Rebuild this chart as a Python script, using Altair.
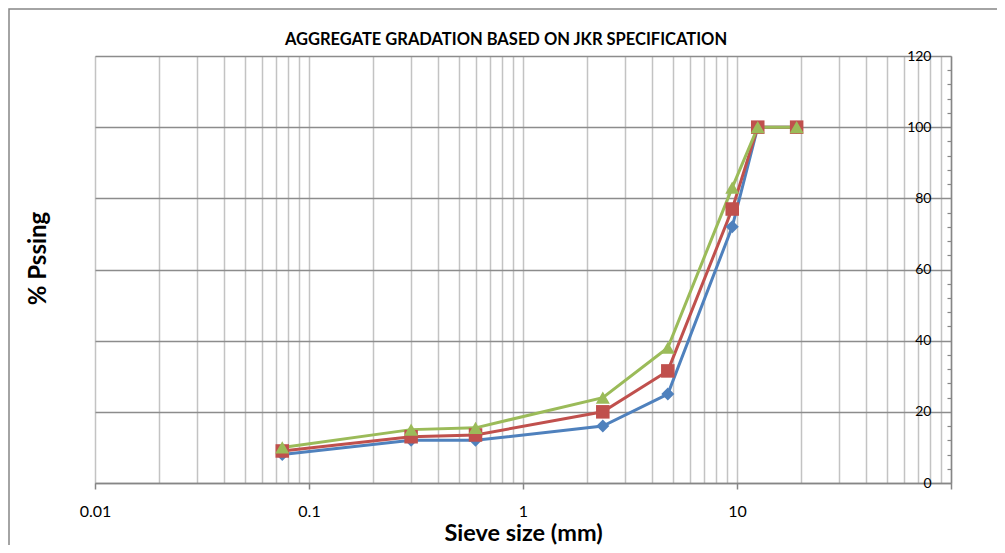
import altair as alt
import pandas as pd

# ---- data ----
sieve_mm = [0.075, 0.3, 0.6, 2.36, 4.75, 9.5, 12.5, 19]
series_names = ["Series1", "Series2", "Series3"]
series1 = [8, 12, 12, 16, 25, 72, 100, 100]
series2 = [9, 13, 13.5, 20, 31.5, 77, 100, 100]
series3 = [10, 15, 15.5, 24, 38, 83, 100, 100]
series_colors = ["#4F81BD", "#C0504D", "#9BBB59"]
series_shapes = ["diamond", "square", "triangle-up"]
series_sizes = [170, 196, 215]

chart_title = "AGGREGATE GRADATION BASED ON JKR SPECIFICATION"
x_title = "Sieve size (mm)"
y_title = "% Pssing"

x_major = [0.01, 0.1, 1, 10, 100]
x_grid = [0.01, 0.02, 0.03, 0.04, 0.05, 0.06, 0.07, 0.08, 0.09,
          0.1, 0.2, 0.3, 0.4, 0.5, 0.6, 0.7, 0.8, 0.9,
          1, 2, 3, 4, 5, 6, 7, 8, 9,
          10, 20, 30, 40, 50, 60, 70, 80, 90, 100]
y_major = [0, 20, 40, 60, 80, 100, 120]
y_minor = [4, 8, 12, 16, 24, 28, 32, 36, 44, 48, 52, 56, 64, 68, 72, 76,
           84, 88, 92, 96, 104, 108, 112, 116]

rows = []
for name, vals in zip(series_names, [series1, series2, series3]):
    for s, v in zip(sieve_mm, vals):
        rows.append({"series": name, "size": s, "pct": v})
df = pd.DataFrame(rows)

W, H = 856, 427
FONT = "Lato"
AXIS_GRAY = "#868686"

xscale = alt.Scale(type="log", domain=[0.01, 100], nice=False)
yscale = alt.Scale(domain=[0, 120], nice=False, zero=True)

x_axis = alt.Axis(
    values=x_grid,
    grid=True, gridColor="#C3C3C3", gridWidth=1.5,
    domain=True, domainColor=AXIS_GRAY, domainWidth=1.5,
    ticks=True, tickColor=AXIS_GRAY, tickWidth=1.5, tickSize=6,
    tickOpacity={"condition": {"test": "indexof([0.01, 0.1, 1, 10, 100], datum.value) >= 0", "value": 1}, "value": 0},
    labelExpr="indexof([0.01, 0.1, 1, 10], datum.value) >= 0 ? format(datum.value, '~g') : ''",
    labelOverlap=False, labelFlush=False,
    labelFont=FONT, labelFontSize=16, labelColor="#000000",
    labelBaseline="middle", labelPadding=22,
    title=x_title, titleFont=FONT, titleFontSize=23.5, titleFontWeight="bold",
    titleColor="#000000", titleX=428, titleY=57.5, titleAlign="center",
    titleBaseline="alphabetic", titleAngle=0,
)

y_axis = alt.Axis(
    orient="right", values=y_major,
    grid=True, gridColor="#8C8C8C", gridWidth=1.5,
    domain=True, domainColor=AXIS_GRAY, domainWidth=1.5,
    ticks=False, tickSize=0,
    labelAlign="right", labelBaseline="middle", labelPadding=-20,
    labelFont=FONT, labelFontSize=14, labelColor="#000000", labelOverlap=False,
    title=y_title, titleFont=FONT, titleFontSize=24, titleFontWeight="bold",
    titleColor="#000000", titleAngle=270, titleX=-906, titleY=202,
    titleAlign="center", titleBaseline="alphabetic",
)

y_minor_axis = alt.Axis(
    orient="right", values=y_minor, offset=-4,
    grid=False, domain=False, labels=False, title=None,
    ticks=True, tickSize=4, tickColor=AXIS_GRAY, tickWidth=1.2,
)

color = alt.Color("series:N", scale=alt.Scale(domain=series_names, range=series_colors), legend=None)

lines = alt.Chart(df).mark_line(strokeWidth=3).encode(
    x=alt.X("size:Q", scale=xscale, axis=x_axis),
    y=alt.Y("pct:Q", scale=yscale, axis=y_axis),
    color=color,
)

points = alt.Chart(df).mark_point(filled=True, opacity=1).encode(
    x=alt.X("size:Q", scale=xscale),
    y=alt.Y("pct:Q", scale=yscale, axis=None),
    color=color,
    shape=alt.Shape("series:N", scale=alt.Scale(domain=series_names, range=series_shapes), legend=None),
    size=alt.Size("series:N", scale=alt.Scale(domain=series_names, range=series_sizes), legend=None),
)

minor = alt.Chart(pd.DataFrame({"v": y_minor})).mark_point(opacity=0).encode(
    y=alt.Y("v:Q", scale=yscale, axis=y_minor_axis),
)

border = alt.Chart(pd.DataFrame({"k": [0]})).mark_rect(
    fill="transparent", stroke=AXIS_GRAY, strokeWidth=1.5
).encode(
    x=alt.value(-86), x2=alt.value(1200), y=alt.value(-47), y2=alt.value(1200)
)

title_text = alt.Chart(pd.DataFrame({"t": [chart_title]})).mark_text(
    font=FONT, fontSize=16.5, fontWeight="bold", color="#000000",
    align="center", baseline="alphabetic",
).encode(text="t:N", x=alt.value(411), y=alt.value(-11))

chart = alt.layer(border, lines, points, minor, title_text).resolve_axis(y="independent").properties(
    width=W, height=H,
    autosize=alt.AutoSizeParams(type="none"),
    padding={"left": 87, "top": 48, "right": 46, "bottom": 62},
).configure_view(stroke=None).configure(background="white")

chart.save("out.html", embed_options={"renderer": "svg", "actions": False})
